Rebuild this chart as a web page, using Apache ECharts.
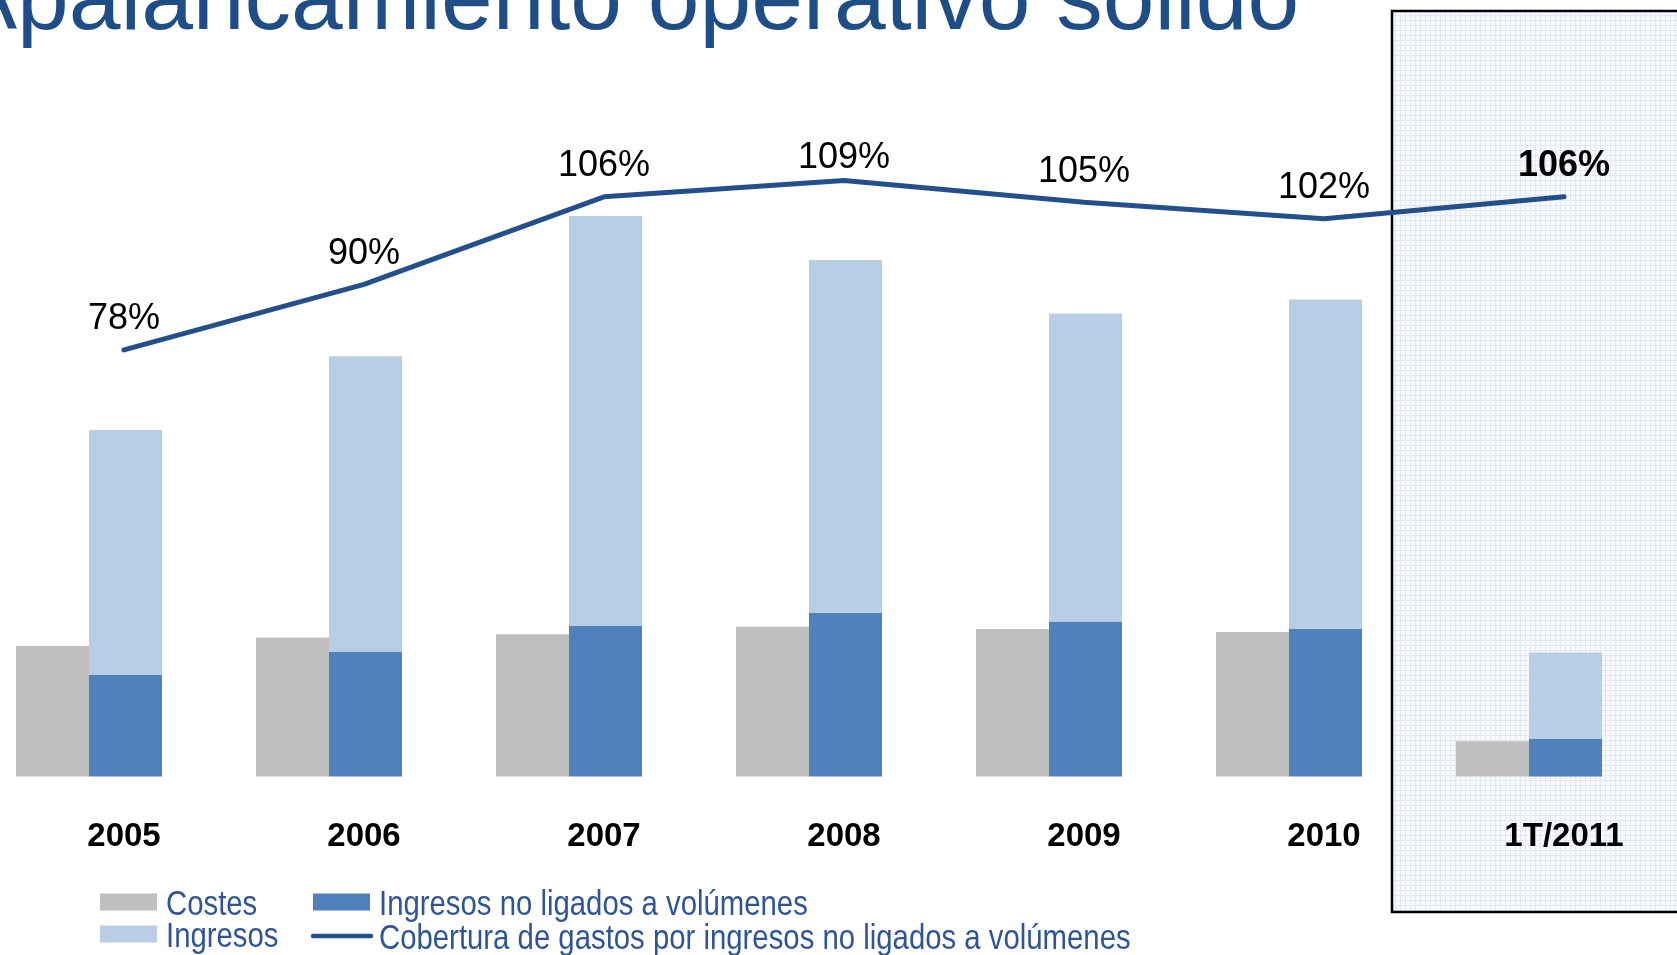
<!DOCTYPE html>
<html>
<head>
<meta charset="utf-8">
<title>Apalancamiento operativo sólido</title>
<script src="https://cdn.jsdelivr.net/npm/echarts@6/dist/echarts.min.js"></script>
<style>
  html, body { margin: 0; padding: 0; background: #ffffff; }
  #chart { width: 1677px; height: 955px; }
</style>
</head>
<body>
<div id="chart"></div>
<script>
// Periods shown on the horizontal axis
const categories = ['2005', '2006', '2007', '2008', '2009', '2010', '1T/2011'];
// Costes (gris)
const costes = [1305, 1390, 1422, 1497, 1476, 1444, 353];
// Ingresos no ligados a volúmenes (azul)
const ingresosNoLigados = [1016, 1250, 1505, 1636, 1551, 1476, 374];
// Ingresos totales (azul claro)
const ingresos = [3465, 4203, 5604, 5166, 4631, 4770, 1241];
// Cobertura de gastos por ingresos no ligados a volúmenes (%)
const cobertura = [78, 90, 106, 109, 105, 102, 106];

const NAME_COSTES = 'Costes';
const NAME_INGRESOS = 'Ingresos';
const NAME_NO_LIGADOS = 'Ingresos no ligados a volúmenes';
const NAME_COBERTURA = 'Cobertura de gastos por ingresos no ligados a volúmenes';

const COLOR_COSTES = '#BFBFBF';
const COLOR_INGRESOS = '#B9CDE5';
const COLOR_NO_LIGADOS = '#4F81BD';
const COLOR_LINE = '#23508A';
const COLOR_LEGEND_TEXT = '#2F5597';

const FONT = '"Liberation Sans", Arial, sans-serif';

// Fine grid texture for the highlighted quarter panel
function gridPattern() {
  const c = document.createElement('canvas');
  c.width = 5; c.height = 5;
  const g = c.getContext('2d');
  g.fillStyle = '#f8fafd';
  g.fillRect(0, 0, 5, 5);
  g.fillStyle = '#e2e9f3';
  g.fillRect(0, 0, 5, 1);
  g.fillRect(0, 0, 1, 5);
  return { image: c, repeat: 'repeat' };
}

// Two-column legend; the captions use a horizontally condensed face
function legendEntry(kind, color, label, x, y) {
  const icon = kind === 'line'
    ? { type: 'line', shape: { x1: x, y1: y, x2: x + 58, y2: y }, style: { stroke: color, lineWidth: 4.5, lineCap: 'round' } }
    : { type: 'rect', shape: { x: x, y: y - 8.5, width: 57, height: 17 }, style: { fill: color } };
  const text = {
    type: 'text', x: x + 66, y: y + 3, scaleX: 0.838,
    style: {
      text: label, x: 0, y: 0, fontSize: 35, fontFamily: FONT,
      fill: COLOR_LEGEND_TEXT, align: 'left', verticalAlign: 'middle'
    }
  };
  return [icon, text];
}
const legendElements = [].concat(
  legendEntry('rect', COLOR_COSTES, NAME_COSTES, 100, 902),
  legendEntry('rect', COLOR_INGRESOS, NAME_INGRESOS, 100, 934),
  legendEntry('rect', COLOR_NO_LIGADOS, NAME_NO_LIGADOS, 313, 902),
  legendEntry('line', COLOR_LINE, NAME_COBERTURA, 313, 936)
);

const chart = echarts.init(document.getElementById('chart'), null, { renderer: 'canvas' });

const option = {
  backgroundColor: '#ffffff',
  animation: false,
  grid: [
    { left: -31, right: 28, top: 76.5, bottom: 178.5, outerBoundsMode: 'none', containLabel: false },
    { left: 4, right: -7, top: 76.5, bottom: 178.5, outerBoundsMode: 'none', containLabel: false }
  ],
  xAxis: [
    {
      type: 'category', gridIndex: 0, data: categories,
      axisLine: { show: false }, axisTick: { show: false }, axisLabel: { show: false },
      splitLine: { show: false }
    },
    {
      type: 'category', gridIndex: 1, data: categories,
      axisLine: { show: false }, axisTick: { show: false }, splitLine: { show: false },
      axisLabel: {
        show: true, margin: 44, color: '#000000', fontFamily: FONT,
        fontSize: 33, fontWeight: 'bold', interval: 0
      }
    }
  ],
  yAxis: [
    { type: 'value', gridIndex: 0, min: 0, max: 7000, show: false, splitLine: { show: false } },
    { type: 'value', gridIndex: 1, min: 0, max: 128, show: false, splitLine: { show: false } }
  ],
  graphic: [
    {
      type: 'rect', z: 0, silent: true,
      shape: { x: 1392, y: 11, width: 400, height: 901 },
      style: { fill: gridPattern(), stroke: '#000000', lineWidth: 2.5 }
    },
    {
      type: 'text', z: 1, silent: true,
      style: {
        text: 'Apalancamiento operativo sólido',
        x: -45, y: 3.5,
        fontSize: 93, fontFamily: FONT,
        fill: '#1F4E86',
        align: 'left', verticalAlign: 'middle'
      }
    },
    { type: 'group', silent: true, children: legendElements }
  ],
  series: [
    {
      name: NAME_COSTES, type: 'bar', xAxisIndex: 0, yAxisIndex: 0,
      barWidth: 73, barGap: '0%',
      itemStyle: { color: COLOR_COSTES },
      data: costes
    },
    {
      name: NAME_NO_LIGADOS, type: 'bar', xAxisIndex: 0, yAxisIndex: 0, stack: 'ingresos',
      barWidth: 73, barGap: '0%',
      itemStyle: { color: COLOR_NO_LIGADOS },
      data: ingresosNoLigados
    },
    {
      name: NAME_INGRESOS, type: 'bar', xAxisIndex: 0, yAxisIndex: 0, stack: 'ingresos',
      barWidth: 73, barGap: '0%',
      itemStyle: { color: COLOR_INGRESOS },
      // remainder of total income above the volume-independent part
      data: ingresos.map((v, i) => v - ingresosNoLigados[i])
    },
    {
      name: NAME_COBERTURA, type: 'line', xAxisIndex: 1, yAxisIndex: 1,
      symbol: 'circle', symbolSize: 1, showSymbol: true, z: 5,
      lineStyle: { color: COLOR_LINE, width: 5, cap: 'round', join: 'round' },
      itemStyle: { color: 'rgba(0,0,0,0)' },
      label: {
        show: true, position: 'top', distance: 12,
        fontFamily: FONT, fontSize: 36, color: '#000000',
        formatter: p => p.value + '%'
      },
      data: cobertura.map((v, i) => {
        if (i === cobertura.length - 1) return { value: v, label: { fontWeight: 'bold' } };
        if (i === 3) return { value: v, label: { distance: 4 } };
        return v;
      })
    }
  ]
};

chart.setOption(option);
</script>
</body>
</html>
